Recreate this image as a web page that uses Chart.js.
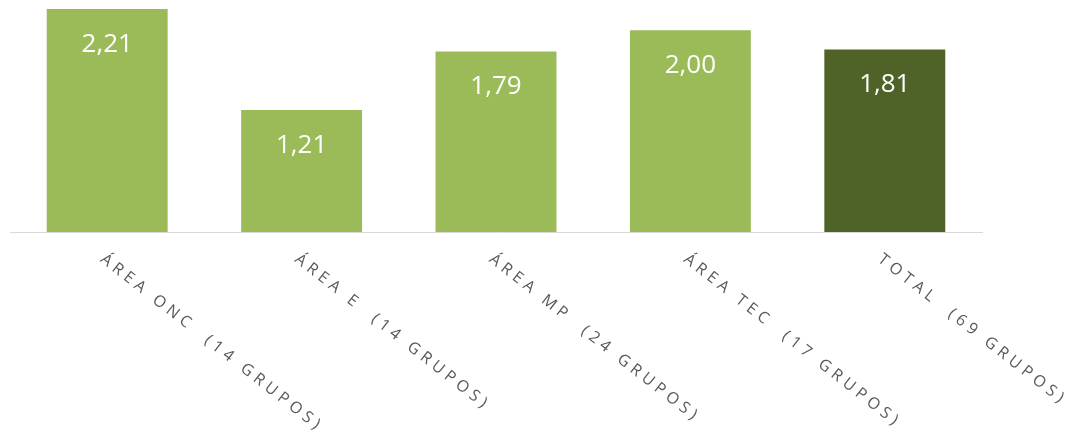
<!DOCTYPE html>
<html>
<head>
<meta charset="utf-8">
<script src="https://cdn.jsdelivr.net/npm/chart.js@4/dist/chart.umd.min.js"></script>
<style>
  html, body { margin: 0; padding: 0; background: #ffffff; }
  #wrap { width: 1072px; height: 439px; position: relative; }
</style>
</head>
<body>
<div id="wrap"><canvas id="c" width="1072" height="439"></canvas></div>
<script>
const categories = ["ÁREA ONC  (14 GRUPOS)", "ÁREA E  (14 GRUPOS)", "ÁREA MP  (24 GRUPOS)", "ÁREA TEC  (17 GRUPOS)", "TOTAL  (69 GRUPOS)"];
const values = [2.21, 1.21, 1.79, 2.00, 1.81];
const barColors = ["#9BBB59", "#9BBB59", "#9BBB59", "#9BBB59", "#4F6228"];

const valueLabels = {
  id: 'valueLabels',
  afterDatasetsDraw(chart) {
    const ctx = chart.ctx;
    const meta = chart.getDatasetMeta(0);
    ctx.save();
    ctx.letterSpacing = '0px';
    ctx.font = '26px "Open Sans", sans-serif';
    ctx.fillStyle = '#ffffff';
    ctx.textAlign = 'center';
    ctx.textBaseline = 'alphabetic';
    meta.data.forEach((el, i) => {
      const txt = values[i].toFixed(2).replace('.', ',');
      ctx.fillText(txt, el.x, el.y + 43);
    });
    ctx.restore();
  }
};

const rotatedTicks = {
  id: 'rotatedTicks',
  afterDraw(chart) {
    const ctx = chart.ctx;
    const xs = chart.scales.x;
    ctx.save();
    ctx.font = '16px "Open Sans", sans-serif';
    ctx.fillStyle = '#595959';
    ctx.letterSpacing = '4.6px';
    ctx.textAlign = 'left';
    ctx.textBaseline = 'top';
    const ang = 38 * Math.PI / 180;
    categories.forEach((lab, i) => {
      const x = xs.getPixelForTick(i);
      const y = xs.top + 19;
      ctx.save();
      ctx.translate(x, y);
      ctx.rotate(ang);
      ctx.fillText(lab, 0, 0);
      ctx.restore();
    });
    ctx.restore();
  }
};

new Chart(document.getElementById('c'), {
  type: 'bar',
  data: {
    labels: categories,
    datasets: [{
      data: values,
      backgroundColor: barColors,
      borderWidth: 0,
      categoryPercentage: 1.0,
      barPercentage: 0.622
    }]
  },
  options: {
    responsive: false,
    animation: false,
    events: [],
    layout: { padding: { left: 10, right: 90, top: 0, bottom: 207 } },
    plugins: { legend: { display: false }, tooltip: { enabled: false } },
    scales: {
      x: {
        grid: { display: false, drawTicks: false },
        border: { display: true, color: '#D9D9D9', width: 1 },
        ticks: { display: false }
      },
      y: {
        display: false,
        min: 0,
        max: 2.3
      }
    }
  },
  plugins: [valueLabels, rotatedTicks]
});
</script>
</body>
</html>
